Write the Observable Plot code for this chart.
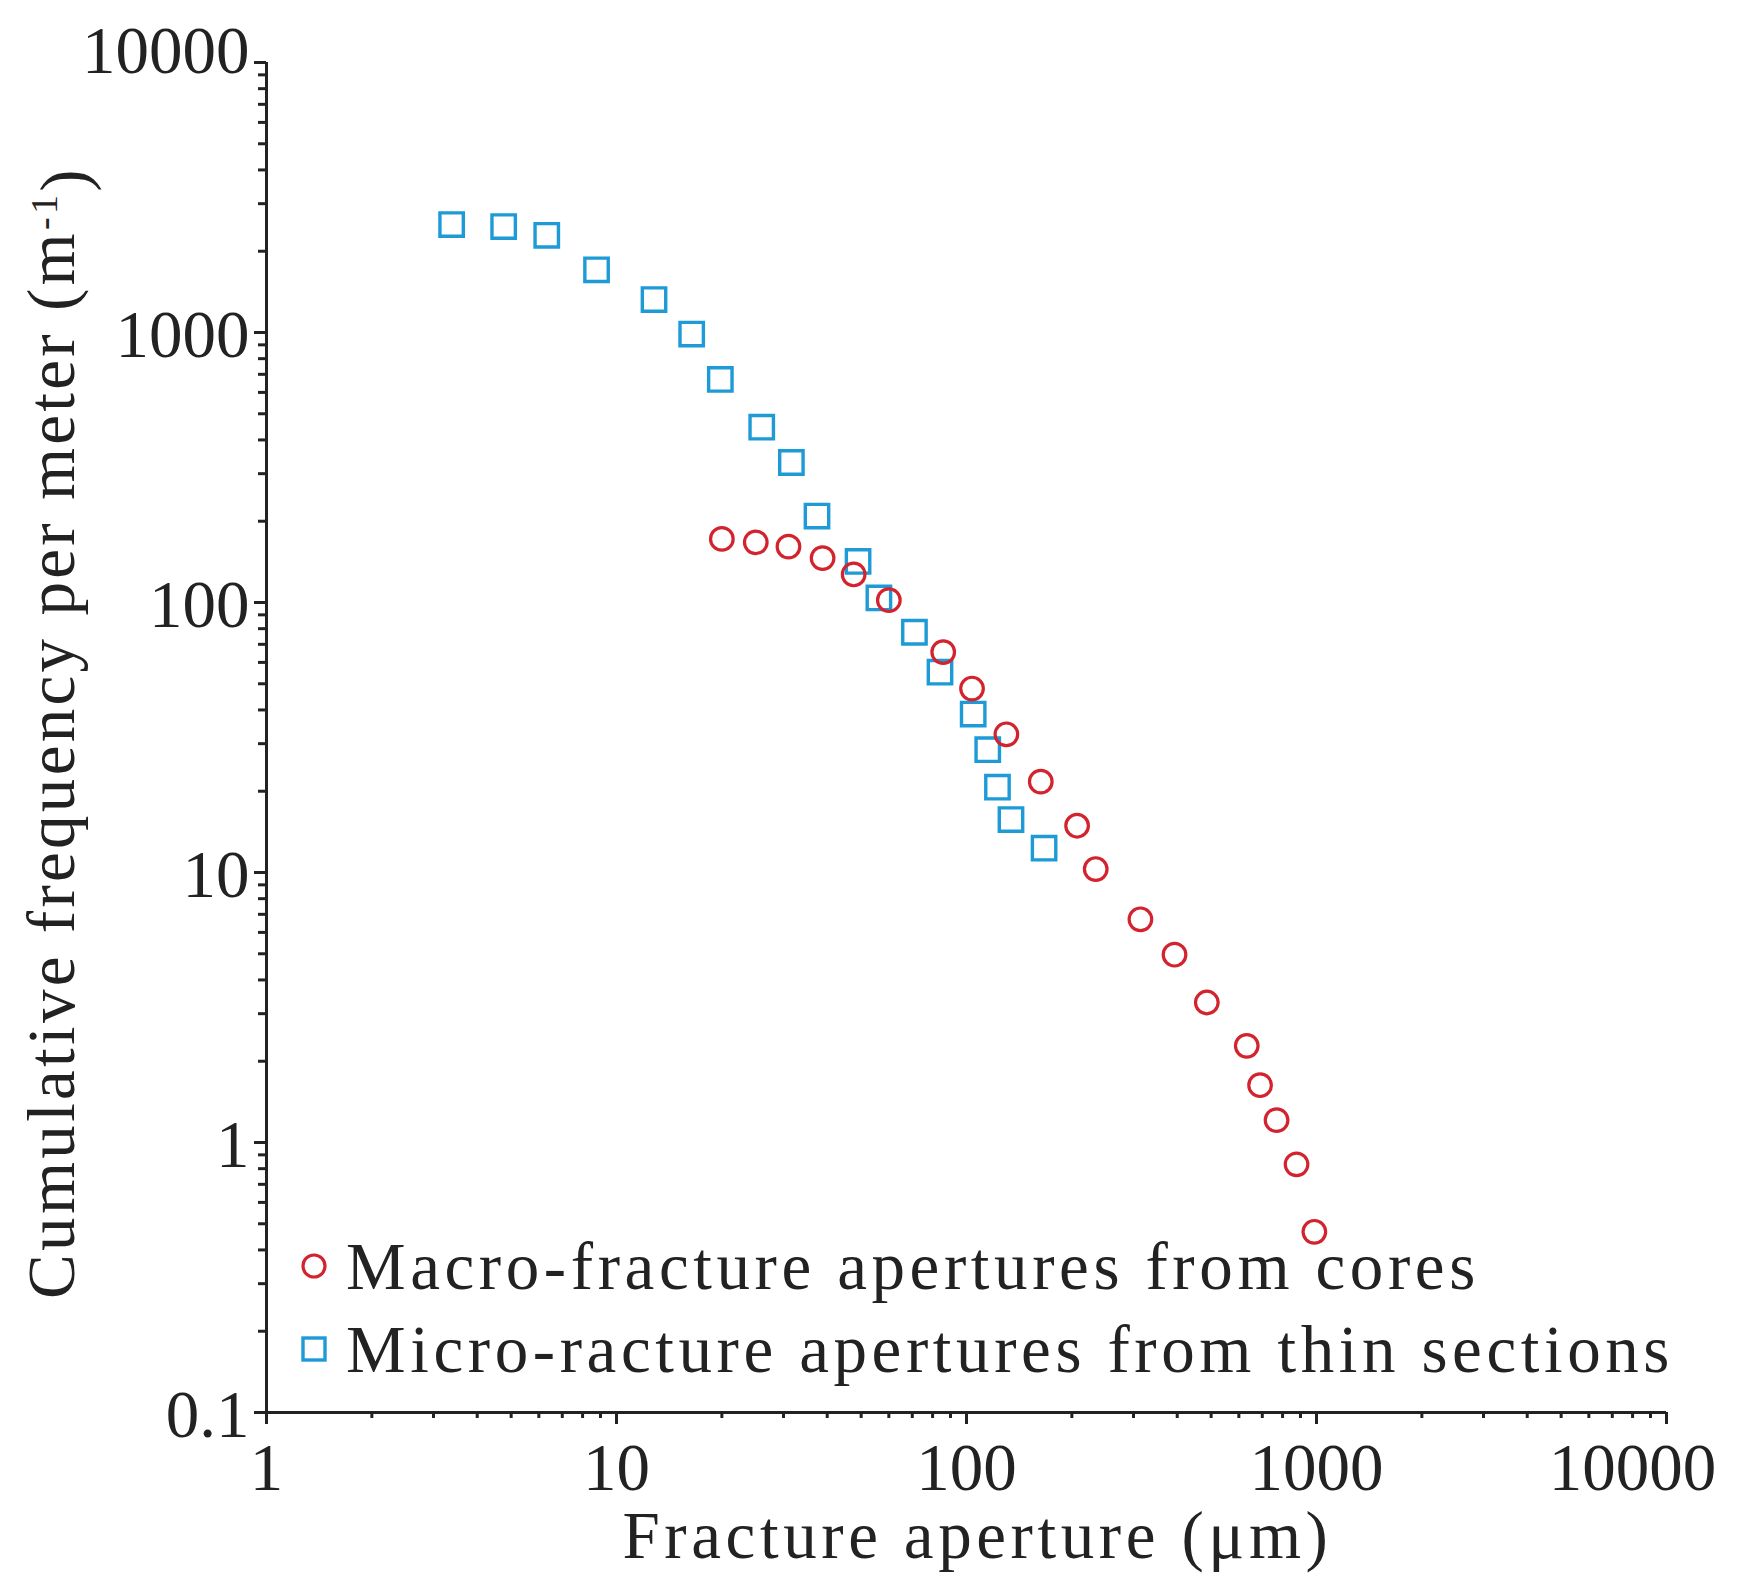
<!DOCTYPE html>
<html><head><meta charset="utf-8">
<script src="https://cdn.jsdelivr.net/npm/d3@7"></script>
<script src="https://cdn.jsdelivr.net/npm/@observablehq/plot@0.6"></script>
<style>
html,body{margin:0;padding:0;background:#fff;}
#wrap{position:relative;width:1737px;height:1594px;}
.leg{position:absolute;left:298px;font-family:"Liberation Serif",serif;font-size:67px;letter-spacing:4.6px;color:#222;white-space:nowrap;display:flex;align-items:center;height:80px;line-height:80px;}
.leg svg{margin-right:16px;}
</style></head><body><div id="wrap"></div>
<script>
// Macro-fracture apertures from cores (red circles)
const macroAperture = [20, 25, 31, 38.8, 47.6, 60, 85.8, 103.7, 130, 163, 207, 234, 314, 393, 486, 632, 690, 769, 877, 986];
const macroFreq = [172, 167, 161, 146, 127, 102, 65.5, 48, 32.5, 21.7, 14.9, 10.3, 6.71, 4.96, 3.30, 2.28, 1.63, 1.21, 0.83, 0.467];
// Micro-racture apertures from thin sections (blue squares)
const microAperture = [3.38, 4.76, 6.32, 8.77, 12.8, 16.4, 19.8, 26.0, 31.6, 37.4, 49, 56.2, 71, 84, 104.5, 115, 122.6, 134, 166.6];
const microFreq = [2510, 2467, 2290, 1707, 1324, 987, 670, 446, 330, 209, 142, 104, 77.6, 55.2, 38.6, 28.5, 20.7, 15.7, 12.3];

const xMajor = [1, 10, 100, 1000, 10000];
const xLabels = ["1", "10", "100", "1000", "10000"];
const yMajor = [0.1, 1, 10, 100, 1000, 10000];
const yLabels = ["0.1", "1", "10", "100", "1000", "10000"];
const minorMultipliers = [2, 3, 4, 5, 6, 7, 8, 9];

const seriesNames = ["Macro-fracture apertures from cores", "Micro-racture apertures from thin sections"];
const xTitle = "Fracture aperture (\u03bcm)";
const yTitle = "Cumulative frequency per meter (m-1)";

const red = "#d3232e";
const blue = "#1e9bd6";
const ink = "#222";

const macro = macroAperture.map((x, i) => ({x, y: macroFreq[i]}));
const micro = microAperture.map((x, i) => ({x, y: microFreq[i]}));
const xMinor = xMajor.slice(0, -1).flatMap(d => minorMultipliers.map(m => d * m));
const yMinor = yMajor.slice(0, -1).flatMap(d => minorMultipliers.map(m => d * m));

const font = "Liberation Serif";

const chart = Plot.plot({
  width: 1737,
  height: 1594,
  marginLeft: 266,
  marginRight: 71,
  marginTop: 62,
  marginBottom: 182,
  style: {fontFamily: font, background: "#fff", color: ink},
  x: {type: "log", domain: [1, 10000]},
  y: {type: "log", domain: [0.1, 10000]},
  marks: [
    Plot.axisX(xMinor, {anchor: "bottom", tickSize: 6, strokeWidth: 3, stroke: ink, tickFormat: () => "", label: null}),
    Plot.axisX(xMajor, {anchor: "bottom", tickSize: 12, strokeWidth: 3, stroke: ink, tickFormat: () => "", label: null}),
    Plot.axisY(yMinor, {anchor: "left", tickSize: 8, strokeWidth: 3, stroke: ink, tickFormat: () => "", label: null}),
    Plot.axisY(yMajor, {anchor: "left", tickSize: 12, strokeWidth: 3, stroke: ink, tickFormat: () => "", label: null}),
    Plot.ruleY([0.1], {stroke: ink, strokeWidth: 3}),
    Plot.ruleX([1], {stroke: ink, strokeWidth: 3}),
    Plot.text(xMajor.slice(0, 4), {x: d => d, frameAnchor: "bottom", lineAnchor: "middle", dy: 56, text: (d, i) => xLabels[i], fontSize: 67, fill: ink}),
    Plot.text(xMajor.slice(4), {x: d => d, frameAnchor: "bottom", lineAnchor: "middle", dy: 56, dx: -34, text: (d, i) => xLabels[4 + i], fontSize: 67, fill: ink}),
    Plot.text(yMajor.slice(0, 5), {y: d => d, frameAnchor: "left", lineAnchor: "middle", dx: -17, dy: 3, textAnchor: "end", text: (d, i) => yLabels[i], fontSize: 67, fill: ink}),
    Plot.text(yMajor.slice(5), {y: d => d, frameAnchor: "left", lineAnchor: "middle", dx: -17, dy: -11, textAnchor: "end", text: (d, i) => yLabels[5 + i], fontSize: 67, fill: ink}),
    Plot.text([xTitle], {frameAnchor: "bottom", lineAnchor: "middle", textAnchor: "middle", dy: 124, dx: 11, fontSize: 67, fill: ink, text: d => d}),
    Plot.text([yTitle], {frameAnchor: "left", lineAnchor: "middle", textAnchor: "middle", dx: -214, dy: -5, rotate: -90, fontSize: 67, fill: ink, text: d => d}),
    Plot.dot(micro, {x: "x", y: "y", symbol: "square", r: 13.2, stroke: blue, strokeWidth: 3.4, fill: "none"}),
    Plot.dot(macro, {x: "x", y: "y", symbol: "circle", r: 11.3, stroke: red, strokeWidth: 3.2, fill: "none"})
  ]
});

// letter spacing for word labels and superscript for m-1
d3.select(chart).selectAll("text").each(function() {
  const t = this.textContent;
  if (t === xTitle) this.setAttribute("letter-spacing", "4.6");
  if (t === yTitle) {
    this.setAttribute("letter-spacing", "3.3");
    this.textContent = "";
    const el = d3.select(this);
    el.append("tspan").text("Cumulative frequency per meter (m");
    el.append("tspan").attr("dy", "-0.45em").attr("font-size", "38").text("-1");
    el.append("tspan").attr("dy", "0.45em").text(")");
  }
});

const wrap = document.getElementById("wrap");
wrap.appendChild(chart);

function legendItem(name, symbol, color, top) {
  const div = document.createElement("div");
  div.className = "leg";
  div.style.top = top + "px";
  const size = 32;
  const icon = symbol === "circle"
    ? `<svg width="${size}" height="${size}"><circle cx="16" cy="16" r="11" fill="none" stroke="${color}" stroke-width="3.2"/></svg>`
    : `<svg width="${size}" height="${size}"><rect x="5" y="5" width="22" height="22" fill="none" stroke="${color}" stroke-width="3.4"/></svg>`;
  div.innerHTML = icon + `<span>${name}</span>`;
  wrap.appendChild(div);
}
legendItem(seriesNames[0], "circle", red, 1226);
legendItem(seriesNames[1], "square", blue, 1309);
</script></body></html>
